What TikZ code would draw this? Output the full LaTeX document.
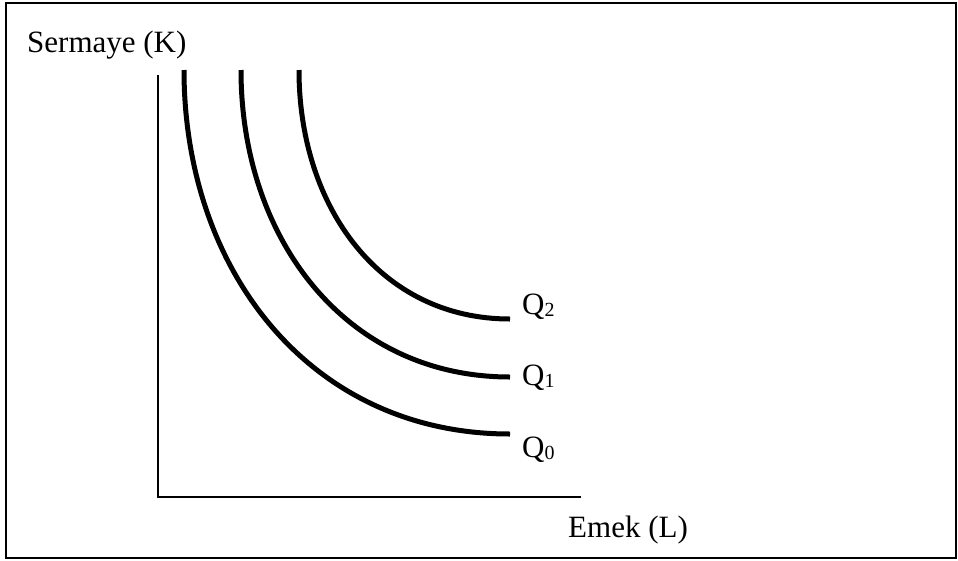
\documentclass[tikz,border=0pt]{standalone}
\usepackage{fontspec}
\setmainfont{Liberation Serif}
\begin{document}
\begin{tikzpicture}[x=1pt,y=-1pt,
  lab/.style={inner sep=0pt, anchor=base west, font=\fontsize{31}{36}\selectfont},
  curve/.style={line width=5pt},
  axis/.style={line width=2pt},
  frame/.style={line width=2pt}]
\newcommand{\qsub}[1]{Q\raisebox{-2pt}{\fontsize{20}{20}\selectfont #1}}
\useasboundingbox (0,0) rectangle (958,560);
\draw[frame] (6,3) rectangle (956,558);
% axes
\coordinate (Ktop) at (158,75);
\coordinate (O) at (158,497);
\coordinate (Lend) at (581,497);
\draw[axis] (Ktop) -- (O) -- (Lend);
% curves
\coordinate (q0s) at (184,70);
\coordinate (q0e) at (510,434);
\coordinate (q1s) at (241,70);
\coordinate (q1e) at (510,377);
\coordinate (q2s) at (299,70);
\coordinate (q2e) at (510,319);
\draw[curve] (q0s) .. controls +(0,200) and +(-200,0) .. (q0e);
\draw[curve] (q1s) .. controls +(0,168) and +(-165,0) .. (q1e);
\draw[curve] (q2s) .. controls +(0,137) and +(-130,0) .. (q2e);
% labels
\node[lab] (K) at (27,52) {Sermaye (K)};
\node[lab] (L) at (568,537) {Emek (L)};
\node[lab] (Q2) at (522,314) {\qsub{2}};
\node[lab] (Q1) at (522,385) {\qsub{1}};
\node[lab] (Q0) at (522,457) {\qsub{0}};
\end{tikzpicture}
\end{document}
